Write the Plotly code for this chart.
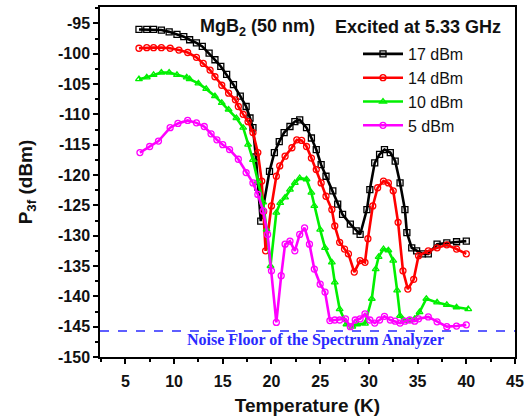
import plotly.graph_objects as go

# ---- data ----
t_17 = [6.4, 7.2, 7.9, 8.7, 9.5, 10.3, 11.0, 11.6, 12.3, 12.9, 13.6, 14.2, 14.8, 15.4, 16.1, 16.8,
        17.4, 17.8, 18.1, 18.4, 18.6, 18.9, 19.8, 20.3, 20.8, 21.3, 21.9, 22.4, 22.9, 23.6, 24.1,
        24.6, 25.1, 25.6, 26.3, 26.8, 27.3, 28.1, 28.7, 29.1, 29.8, 30.1, 30.6, 31.1, 31.6, 32.2,
        32.7, 33.2, 33.7, 33.9, 34.4, 34.9, 35.5, 36.1, 37.0, 38.0, 39.0, 40.0]
p_17 = [-96.0, -96.0, -96.0, -96.1, -96.4, -96.8, -97.2, -97.7, -98.2, -98.8, -99.9, -101.0, -102.1,
        -103.4, -105.1, -107.0, -108.7, -110.6, -112.2, -117.0, -122.0, -127.6, -119.4, -116.3,
        -114.5, -113.0, -112.0, -111.2, -110.9, -112.2, -113.9, -115.8, -118.3, -120.2, -122.6,
        -124.8, -126.5, -128.1, -129.2, -129.8, -125.7, -122.4, -118.0, -116.6, -115.8, -116.3,
        -117.7, -121.3, -125.7, -129.5, -132.0, -132.5, -133.0, -133.0, -131.4, -131.2, -131.0, -130.9]

t_14 = [6.4, 7.2, 7.9, 8.7, 9.6, 10.5, 11.4, 12.3, 13.0, 13.7, 14.2, 14.9, 15.6, 16.3, 16.6, 17.1,
        17.6, 18.1, 18.6, 19.0, 19.2, 19.4, 20.0, 20.5, 20.85, 21.4, 22.1, 22.6, 23.1, 23.6, 24.1,
        24.6, 25.1, 25.6, 26.2, 26.5, 27.0, 27.5, 27.9, 28.5, 29.1, 29.6, 29.9, 30.4, 30.9, 31.5,
        32.0, 32.5, 33.0, 33.5, 34.0, 34.6, 35.1, 36.1, 37.0, 38.0, 39.0, 40.0]
p_14 = [-99.1, -99.0, -99.0, -99.0, -99.1, -99.4, -99.8, -100.6, -101.6, -102.7, -103.8, -105.2,
        -106.5, -107.6, -108.7, -110.0, -111.2, -113.0, -116.3, -121.0, -126.0, -132.5, -125.1,
        -120.2, -118.5, -116.9, -115.5, -114.2, -114.3, -115.3, -117.2, -119.1, -121.3, -123.5,
        -125.7, -128.4, -131.1, -132.2, -133.0, -136.0, -134.1, -134.4, -130.5, -125.1, -122.1,
        -121.0, -121.3, -122.6, -127.8, -135.8, -138.8, -137.2, -133.3, -132.5, -132.0, -131.5,
        -132.2, -133.0]

t_10 = [6.4, 7.2, 7.9, 8.7, 9.5, 10.3, 11.3, 11.6, 12.5, 13.3, 14.2, 14.9, 15.6, 16.4, 17.1, 17.6,
        18.1, 18.6, 19.15, 19.5, 19.9, 20.5, 20.9, 21.4, 21.9, 22.4, 22.9, 23.6, 24.1, 24.4, 25.0,
        25.5, 26.2, 26.5, 27.0, 27.7, 28.3, 28.8, 29.6, 30.3, 30.7, 31.0, 31.5, 32.0, 32.5, 32.9,
        33.2, 33.6, 34.2, 34.7, 35.2, 35.9, 37.0, 38.0, 39.0, 40.2]
p_10 = [-104.2, -103.9, -103.5, -103.1, -103.1, -103.5, -103.9, -104.2, -104.9, -105.8, -107.0,
        -108.1, -109.2, -110.6, -112.2, -115.0, -117.5, -121.0, -124.5, -129.0, -135.0, -126.2,
        -124.6, -123.7, -122.4, -121.3, -120.5, -120.7, -122.9, -125.1, -129.0, -132.0, -134.4,
        -137.7, -142.1, -144.6, -145.0, -144.6, -144.5, -140.4, -135.5, -133.5, -132.2, -132.4,
        -134.1, -139.0, -143.2, -144.0, -144.0, -143.7, -142.6, -140.4, -141.0, -141.4, -141.8,
        -142.1]

t_5 = [6.5, 7.5, 8.4, 9.6, 10.4, 11.4, 12.3, 13.1, 13.8, 14.4, 15.0, 15.7, 16.6, 17.4, 18.1, 18.6,
       19.15, 19.6, 20.0, 20.5, 21.0, 21.4, 21.9, 22.4, 22.9, 23.4, 23.9, 24.4, 25.0, 25.5, 26.0,
       26.5, 27.0, 27.6, 28.1, 28.6, 29.1, 29.6, 30.1, 30.6, 31.1, 31.6, 32.2, 32.7, 33.2, 33.7,
       34.2, 34.7, 35.1, 36.1, 37.0, 38.0, 39.0, 40.0]
p_5 = [-116.3, -115.3, -114.4, -112.2, -111.5, -111.0, -111.4, -112.0, -113.2, -114.2, -115.0,
       -115.8, -117.4, -119.6, -121.3, -123.2, -125.9, -129.8, -135.8, -144.3, -136.6, -131.4,
       -130.9, -132.5, -129.8, -128.7, -131.4, -135.5, -138.0, -139.3, -144.0, -143.9, -143.9,
       -143.7, -145.0, -143.9, -143.7, -142.9, -143.9, -144.4, -143.9, -143.3, -143.9, -144.1,
       -144.4, -144.1, -143.9, -144.1, -143.7, -143.4, -144.2, -145.0, -144.9, -144.7]

noise_floor = -145.7
x_range = [2.4, 45]
y_range = [-150, -92.3]
x_ticks = [5, 10, 15, 20, 25, 30, 35, 40, 45]
y_ticks = [-95, -100, -105, -110, -115, -120, -125, -130, -135, -140, -145, -150]

series = [
    ("17 dBm", t_17, p_17, "#000000", "square-open"),
    ("14 dBm", t_14, p_14, "#ff0000", "circle-open"),
    ("10 dBm", t_10, p_10, "#00f000", "triangle-up-open"),
    ("5 dBm", t_5, p_5, "#ff00ff", "circle-open"),
]

W, H = 527, 419
L, R, T, B = 100, 12, 7, 62

def px(xp):
    return (xp - L) / (W - L - R)

def py(yp):
    return 1 - (yp - T) / (H - T - B)

fig = go.Figure()
for name, tx, ty, col, sym in series:
    fig.add_trace(go.Scatter(
        x=tx, y=ty, name=name, mode="lines+markers",
        line=dict(color=col, width=2.6),
        marker=dict(symbol=sym, size=6, color=col, line=dict(width=1.3, color=col)),
    ))

fig.add_shape(type="line", xref="paper", yref="y", x0=0, x1=1, y0=noise_floor, y1=noise_floor,
              line=dict(color="#2a2aff", width=1.5, dash="dash"))

fig.add_annotation(xref="paper", yref="paper", x=px(315), y=py(340), showarrow=False,
                   xanchor="center", yanchor="middle",
                   text="<b>Noise Floor of the Spectrum Analyzer</b>",
                   font=dict(family="Liberation Serif", size=16, color="#2a2aff"))
fig.add_annotation(xref="paper", yref="paper", x=px(257), y=py(27), showarrow=False,
                   xanchor="center", yanchor="middle",
                   text="<b>MgB<sub>2</sub> (50 nm)</b>",
                   font=dict(family="Liberation Sans", size=18, color="#111111"))
fig.add_annotation(xref="paper", yref="paper", x=px(418), y=py(27), showarrow=False,
                   xanchor="center", yanchor="middle",
                   text="<b>Excited at 5.33 GHz</b>",
                   font=dict(family="Liberation Sans", size=18, color="#111111"))

axis_common = dict(
    showline=True, linecolor="black", linewidth=1.5, mirror=True,
    ticks="outside", ticklen=5, tickwidth=1.5, tickcolor="black",
    showgrid=False, zeroline=False,
    tickfont=dict(family="Liberation Sans", size=16, color="#111111"),
)

fig.update_xaxes(
    range=x_range, tickvals=x_ticks, ticktext=[f"<b>{v}</b>" for v in x_ticks],
    minor=dict(ticks="outside", ticklen=3, tickwidth=1.5, dtick=2.5, tick0=0, tickcolor="black"),
    ticklabelstandoff=4,
    title=dict(text="<b>Temperature (K)</b>", font=dict(family="Liberation Sans", size=19, color="#111111"), standoff=10),
    **axis_common,
)
fig.update_yaxes(
    range=y_range, tickvals=y_ticks, ticktext=[f"<b>{v}</b>" for v in y_ticks],
    minor=dict(ticks="outside", ticklen=3, tickwidth=1.5, dtick=2.5, tick0=0, tickcolor="black"),
    title=dict(text="<b>P<sub>3f</sub> (dBm)</b>", font=dict(family="Liberation Sans", size=19, color="#111111"), standoff=20),
    **axis_common,
)

fig.update_layout(
    width=W, height=H,
    margin=dict(l=L, r=R, t=T, b=B, pad=0, autoexpand=False),
    paper_bgcolor="white", plot_bgcolor="white",
    showlegend=True,
    legend=dict(x=px(358), y=py(37), xanchor="left", yanchor="top",
                bgcolor="rgba(0,0,0,0)", borderwidth=0,
                font=dict(family="Liberation Sans", size=16, color="#111111"),
                itemwidth=40, tracegroupgap=0),
)

fig.write_html("out.html", config={"displayModeBar": False},
               post_script="document.body.style.margin='0';")
